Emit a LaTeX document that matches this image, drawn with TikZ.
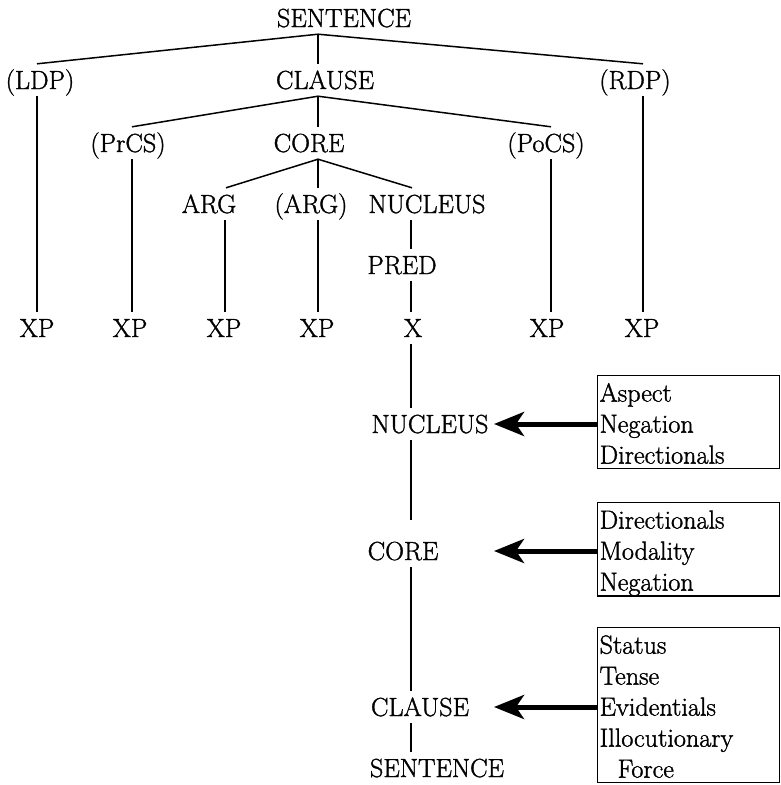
\documentclass[tikz,border=0pt]{standalone}
\usepackage{fontspec}
\setmainfont{Latin Modern Roman}[FakeBold=1.3]
\usetikzlibrary{arrows.meta}
\newcommand\opTop{\rule{0pt}{26pt}}
\newcommand\opBot{\rule[-5pt]{0pt}{5pt}}
\begin{document}
\begin{tikzpicture}[x=1pt,y=-1pt,
  font=\fontsize{26.2}{31}\selectfont,
  lbl/.style={inner sep=0pt,text height=25pt,text depth=7pt,anchor=base},
  edge/.style={line width=1.5pt},
  opbox/.style={draw,line width=1.3pt,anchor=north west,align=left,
    text width=178pt,inner xsep=2pt,inner ysep=0pt},
  oparrow/.style={line width=5pt,-{Stealth[length=30pt,width=24pt,inset=8pt]}}]
\useasboundingbox (0,0) rectangle (781,785);

% constituent projection
\node[lbl] (sent)   at (344,27)  {SENTENCE};
\node[lbl] (ldp)    at (40,89)   {(LDP)};
\node[lbl] (clause) at (325,89)  {CLAUSE};
\node[lbl] (rdp)    at (635,89)  {(RDP)};
\node[lbl] (prcs)   at (128,152) {(PrCS)};
\node[lbl] (core)   at (309,152) {CORE};
\node[lbl] (pocs)   at (546,152) {(PoCS)};
\node[lbl] (arg)    at (209,213) {ARG};
\node[lbl] (argb)   at (311,213) {(ARG)};
\node[lbl] (nuc)    at (427,213) {NUCLEUS};
\node[lbl] (pred)   at (402,274) {PRED};
\node[lbl] (xpa)    at (37,337)  {XP};
\node[lbl] (xpb)    at (130,337) {XP};
\node[lbl] (xpc)    at (224,337) {XP};
\node[lbl] (xpd)    at (317,337) {XP};
\node[lbl] (xx)     at (413,337) {X};
\node[lbl] (xpe)    at (547,337) {XP};
\node[lbl] (xpf)    at (642,337) {XP};

\draw[edge] ([xshift=-26pt]sent.south) -- ([xshift=-3pt]ldp.north);
\draw[edge] ([xshift=-26pt]sent.south) -- ([xshift=-7pt]clause.north);
\draw[edge] ([xshift=-26pt]sent.south) -- ([xshift=8pt]rdp.north);
\draw[edge] ([xshift=-7pt]clause.south) -- ([xshift=4pt]prcs.north);
\draw[edge] ([xshift=-7pt]clause.south) -- ([xshift=9pt]core.north);
\draw[edge] ([xshift=-7pt]clause.south) -- ([xshift=5pt]pocs.north);
\draw[edge] ([xshift=9pt]core.south) -- ([xshift=17pt]arg.north);
\draw[edge] ([xshift=9pt]core.south) -- ([xshift=7pt]argb.north);
\draw[edge] ([xshift=9pt]core.south) -- ([xshift=-15pt]nuc.north);

\draw[edge] ([xshift=-3pt]ldp.south) -- (xpa.north);
\draw[edge] ([xshift=4pt]prcs.south) -- ([xshift=2pt]xpb.north);
\draw[edge] ([xshift=16pt]arg.south) -- ([xshift=1pt]xpc.north);
\draw[edge] ([xshift=7pt]argb.south) -- ([xshift=1pt]xpd.north);
\draw[edge] ([xshift=-16pt]nuc.south) -- ([xshift=9pt]pred.north);
\draw[edge] ([xshift=9pt]pred.south) -- ([xshift=-2pt]xx.north);
\draw[edge] ([xshift=5pt]pocs.south) -- ([xshift=4pt]xpe.north);
\draw[edge] ([xshift=8pt]rdp.south) -- ([xshift=1pt]xpf.north);

% operator projection
\node[lbl] (nucop)    at (430,433) {NUCLEUS};
\node[lbl] (coreop)   at (403,560) {CORE};
\node[lbl] (clauseop) at (420,716) {CLAUSE};
\node[lbl] (sentop)   at (437,777) {SENTENCE};

\draw[edge] ([xshift=-2pt]xx.south) -- ([xshift=-19pt]nucop.north);
\draw[edge,shorten >=15pt] ([xshift=-19pt]nucop.south) -- ([xshift=8pt]coreop.north);
\draw[edge] ([xshift=8pt]coreop.south) -- ([xshift=-9pt]clauseop.north);
\draw[edge] ([xshift=-9pt]clauseop.south) -- ([xshift=-26pt]sentop.north);

\node[opbox] (opnuc) at (597,375) {\opTop Aspect\\Negation\\Directionals\opBot};
\node[opbox] (opcore) at (597,502) {\opTop Directionals\\Modality\\Negation\opBot};
\node[opbox] (opclause) at (597,627) {\opTop Status\\Tense\\Evidentials\\Illocutionary\\\hspace*{18pt}Force\opBot};

\coordinate (tipcol) at (494,0);
\draw[oparrow] (opnuc.west |- nucop.center) -- (tipcol |- nucop.center);
\draw[oparrow] (opcore.west |- coreop.center) -- (tipcol |- coreop.center);
\draw[oparrow] (opclause.west |- clauseop.center) -- (tipcol |- clauseop.center);
\end{tikzpicture}
\end{document}
